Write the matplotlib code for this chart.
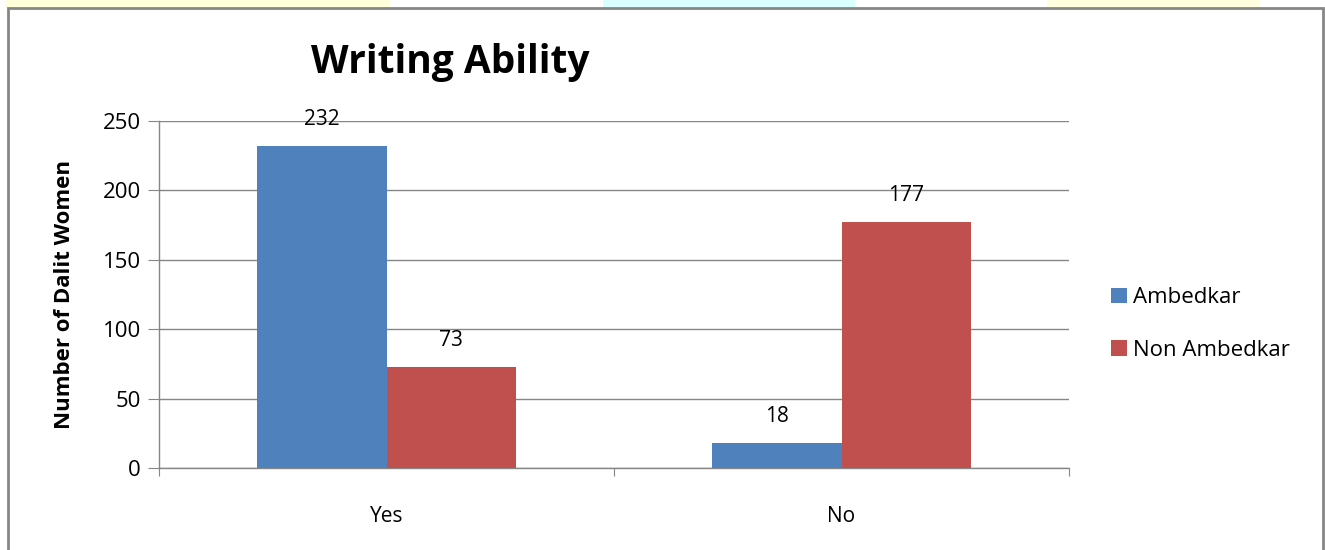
import matplotlib.pyplot as plt
from matplotlib.patches import Rectangle
import numpy as np

plt.rcParams['font.family'] = ['Open Sans', 'DejaVu Sans']

categories = ["Yes", "No"]
series_names = ["Ambedkar", "Non Ambedkar"]
ambedkar = [232, 18]
non_ambedkar = [73, 177]
colors = ["#4F81BD", "#C0504D"]

fig = plt.figure(figsize=(13.25, 5.5), dpi=100)

# faint decorative strip along the top edge
strip = [((0.004, 0.29), "#FFFFD0"), ((0.455, 0.19), "#D0FFFF"), ((0.79, 0.16), "#FFFFD8")]
for (x0, w), c in strip:
    fig.patches.append(Rectangle((x0, 0.987), w, 0.013, transform=fig.transFigure,
                                 facecolor=c, edgecolor='none', alpha=0.8, zorder=0))

# chart frame
fig.patches.append(Rectangle((8 / 1325, -0.05), (1323 - 8) / 1325, 1.05 - 8 / 550,
                             transform=fig.transFigure, facecolor='none',
                             edgecolor='#868686', linewidth=2, zorder=1))

ax = fig.add_axes([159 / 1325, 1 - 468 / 550, (1069 - 159) / 1325, (468 - 121) / 550])

x = np.arange(len(categories))
w = 0.285
b1 = ax.bar(x - w / 2, ambedkar, w, color=colors[0], label=series_names[0], zorder=3)
b2 = ax.bar(x + w / 2, non_ambedkar, w, color=colors[1], label=series_names[1], zorder=3)

for bars, vals in ((b1, ambedkar), (b2, non_ambedkar)):
    for r, v in zip(bars, vals):
        ax.annotate(str(v), (r.get_x() + r.get_width() / 2, v), xytext=(0, 19),
                    textcoords='offset points', ha='center', va='center', fontsize=15)

ax.set_xlim(-0.5, 1.5)
ax.set_ylim(0, 250)
ax.set_yticks(range(0, 251, 50))
ax.set_xticks([-0.5, 0.5, 1.5])
ax.set_xticklabels([])
ax.set_xticks(x, minor=True)
ax.set_xticklabels(categories, minor=True)
ax.tick_params(axis='x', which='major', length=6, color='#868686', direction='out')
ax.tick_params(axis='x', which='minor', length=0, pad=27, labelsize=15)
ax.tick_params(axis='y', length=8, color='#868686', labelsize=16, pad=5)
ax.yaxis.grid(True, color='#868686', linewidth=1, zorder=0)
ax.set_axisbelow(True)
for s in ('top', 'right'):
    ax.spines[s].set_visible(False)
for s in ('left', 'bottom'):
    ax.spines[s].set_color('#868686')
    ax.spines[s].set_linewidth(1)

ax.set_ylabel("Number of Dalit Women", fontsize=16, fontweight='bold', labelpad=20)
fig.text(450 / 1325, 1 - 63 / 550, "Writing Ability", ha='center', va='center',
         fontsize=28, fontweight='bold')

leg = fig.legend(handles=[b1, b2], loc='center left', bbox_to_anchor=(1091 / 1325, 1 - 324 / 550),
                 frameon=False, fontsize=16, handlelength=0.7, handleheight=0.7,
                 handletextpad=0.3, labelspacing=1.4)

fig.savefig("out.png", dpi=100)
